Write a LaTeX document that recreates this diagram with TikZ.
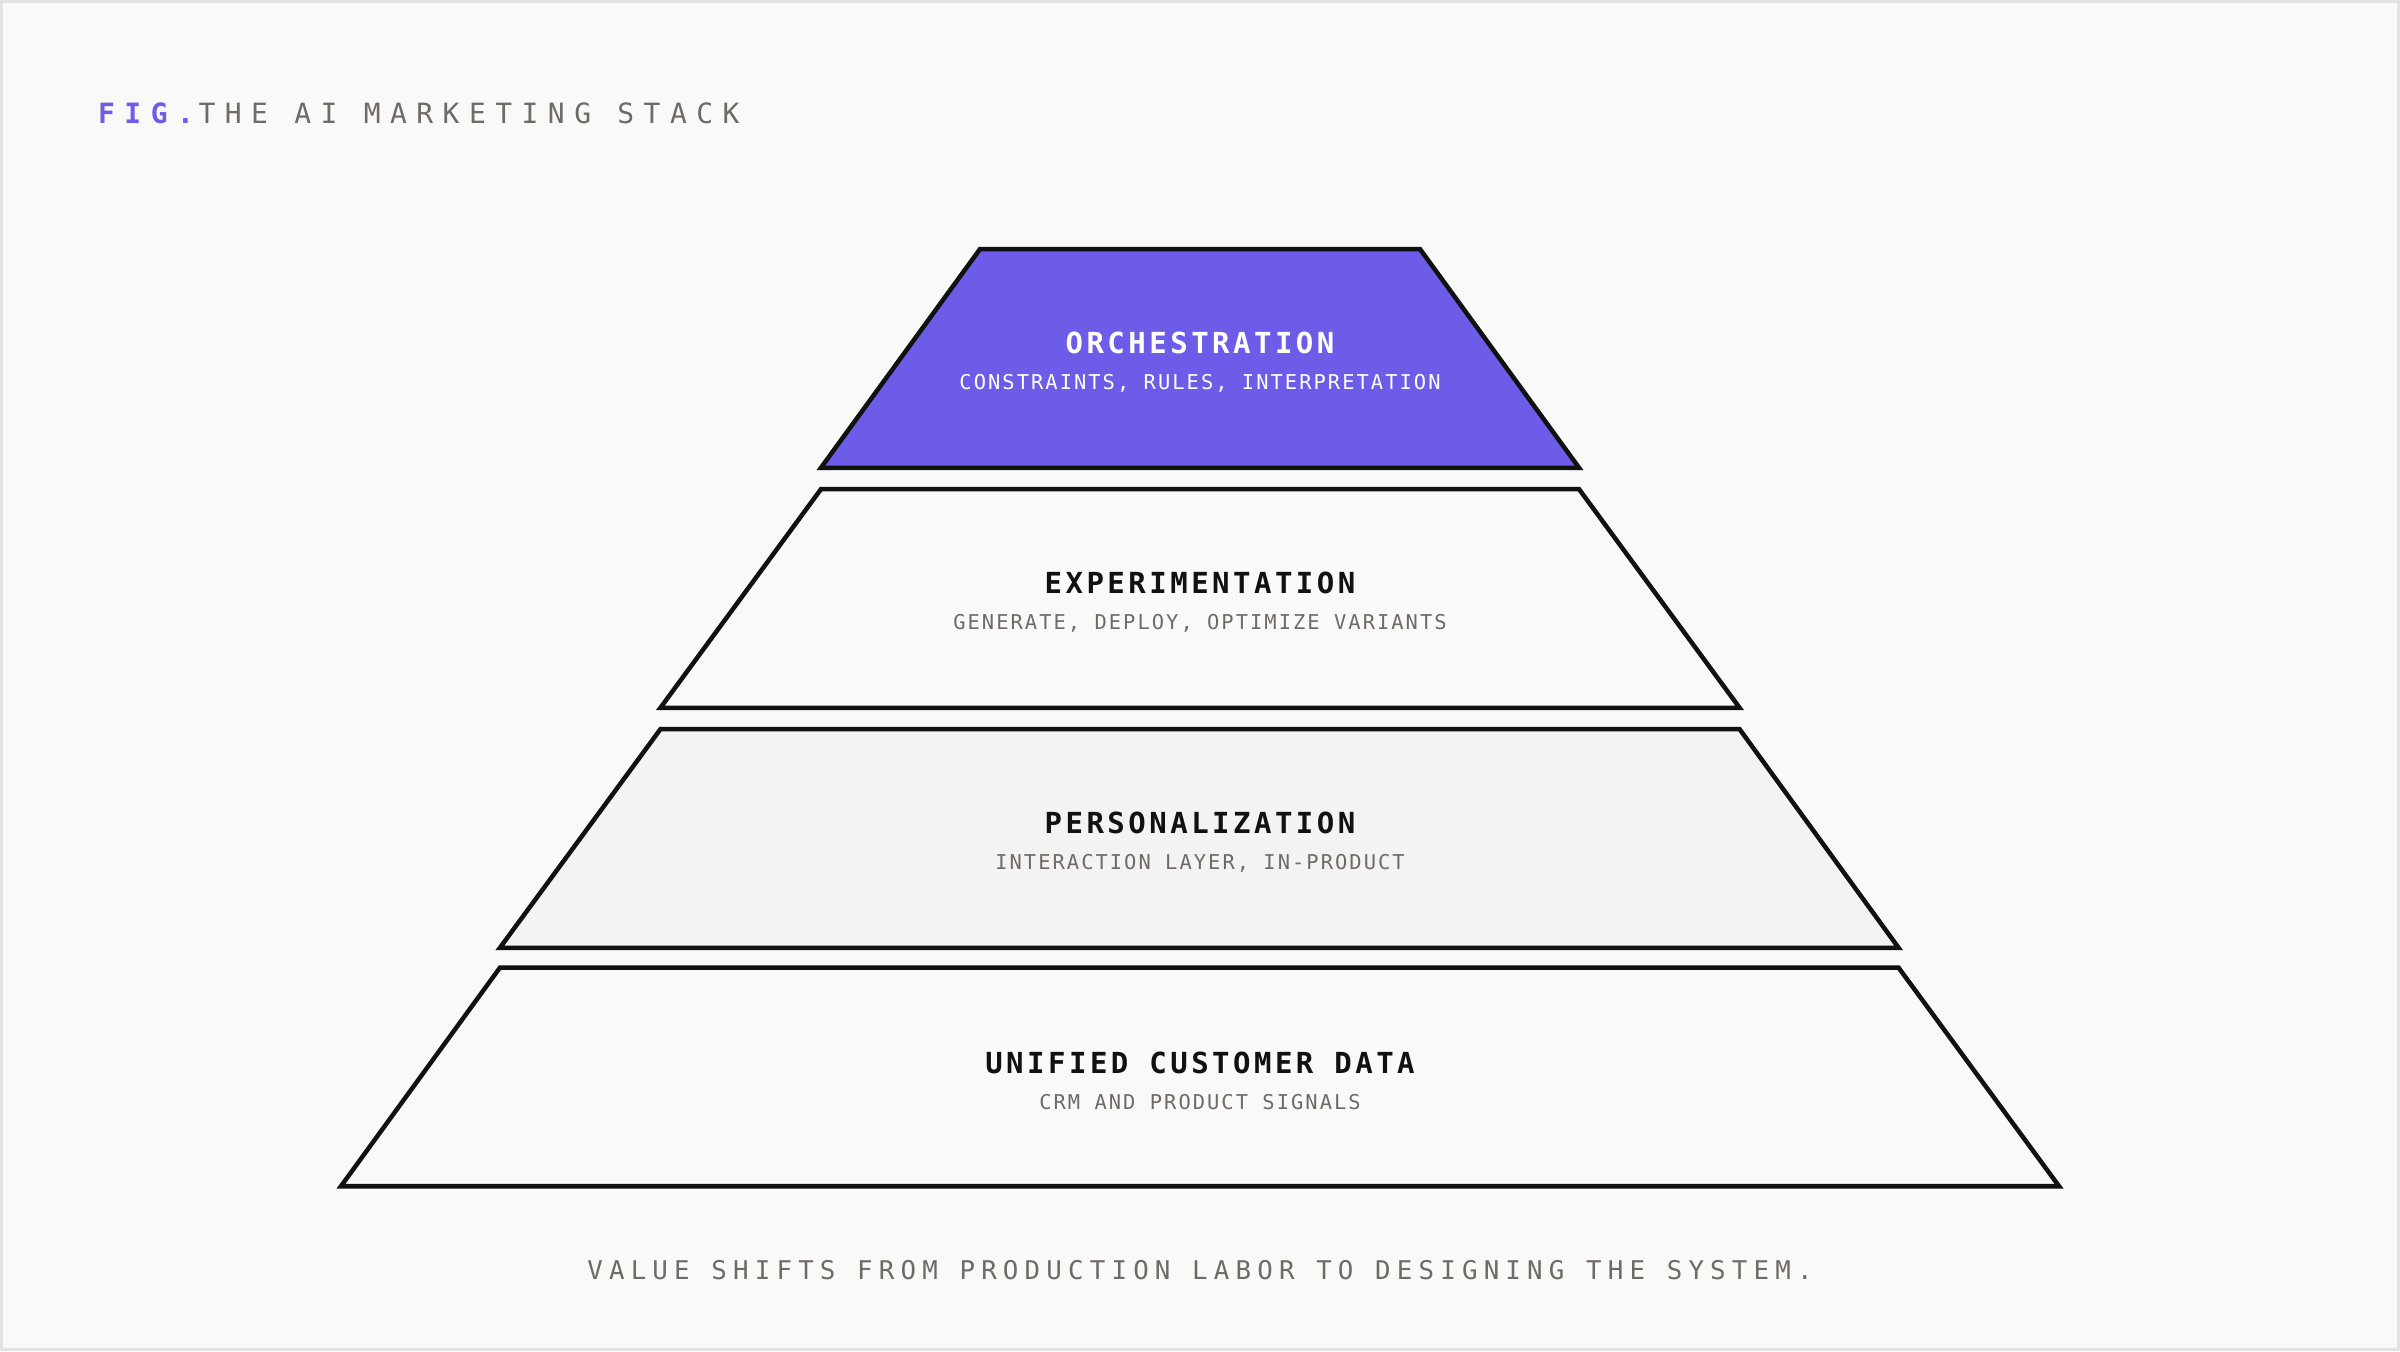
\documentclass[tikz,border=0pt]{standalone}
\usepackage{fontspec}
\newfontfamily\ttA[LetterSpace=34]{DejaVu Sans Mono}
\newfontfamily\ttB[LetterSpace=12]{DejaVu Sans Mono}
\newfontfamily\ttC[LetterSpace=10]{DejaVu Sans Mono}
\newfontfamily\ttD[LetterSpace=24]{DejaVu Sans Mono}
\definecolor{bg}{HTML}{F9F9F7}
\definecolor{frame}{HTML}{E2E2E0}
\definecolor{purp}{HTML}{6C5CE7}
\definecolor{grayt}{HTML}{6E6A66}
\definecolor{lay3}{HTML}{F3F3F1}
\definecolor{ink}{HTML}{111111}
\begin{document}
\begin{tikzpicture}[x=0.05cm,y=-0.05cm,
  layer/.style={draw=ink,line width=4.2pt,line join=miter},
  ltitle/.style={font=\ttB\fontsize{27}{30}\selectfont\bfseries,text=ink,anchor=base},
  lsub/.style={font=\ttC\fontsize{19}{22}\selectfont,text=grayt,anchor=base}]
\path[fill=bg,draw=frame,line width=3pt] (0,0) rectangle (1568,882);
\useasboundingbox (0,0) rectangle (1568,882);
\node[anchor=base west,inner sep=0,font=\ttA\fontsize{26}{30}\selectfont] (fig) at (63,80) {\textcolor{purp}{\bfseries FIG.}\,\textcolor{grayt}{THE AI MARKETING STACK}};
\path[layer,fill=purp] (640,162) -- (928,162) -- (1032,305) -- (536,305) -- cycle;
\path[layer,fill=bg] (536,319) -- (1032,319) -- (1137,462) -- (431,462) -- cycle;
\path[layer,fill=lay3] (431,476) -- (1137,476) -- (1241,619) -- (326,619) -- cycle;
\path[layer,fill=bg] (326,632) -- (1241,632) -- (1346,775) -- (222,775) -- cycle;
\node[ltitle,text=white] (t1) at (784,230) {ORCHESTRATION};
\node[lsub,text=white] (s1) at (784,254) {CONSTRAINTS, RULES, INTERPRETATION};
\node[ltitle] (t2) at (784,387) {EXPERIMENTATION};
\node[lsub] (s2) at (784,411) {GENERATE, DEPLOY, OPTIMIZE VARIANTS};
\node[ltitle] (t3) at (784,544) {PERSONALIZATION};
\node[lsub] (s3) at (784,568) {INTERACTION LAYER, IN-PRODUCT};
\node[ltitle] (t4) at (784,701) {UNIFIED CUSTOMER DATA};
\node[lsub] (s4) at (784,725) {CRM AND PRODUCT SIGNALS};
\node[anchor=base,font=\ttD\fontsize{24}{28}\selectfont,text=grayt] (cap) at (784,836) {VALUE SHIFTS FROM PRODUCTION LABOR TO DESIGNING THE SYSTEM.};
\end{tikzpicture}
\end{document}
